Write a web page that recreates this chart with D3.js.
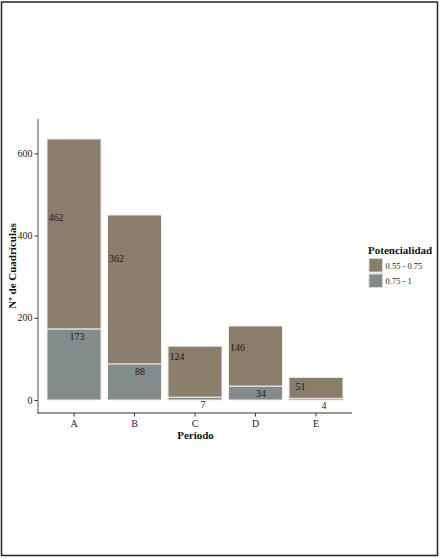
<!DOCTYPE html>
<html><head><meta charset="utf-8">
<script src="https://cdn.jsdelivr.net/npm/d3@7"></script>
<style>html,body{margin:0;padding:0;background:#fff;}</style>
</head><body>
<svg id="chart" width="440" height="559"></svg>
<script>
const periods = ["A","B","C","D","E"];
const seriesNames = ["0.55 - 0.75","0.75 - 1"];
const low = [462,362,124,146,51];   // 0.55 - 0.75 (top, brown)
const high = [173,88,7,34,4];        // 0.75 - 1 (bottom, grey)
const yTicks = [0,200,400,600];
const colors = {"0.55 - 0.75":"#8B7D6B","0.75 - 1":"#838B8B"};

const svg = d3.select("#chart");
const font = "'Liberation Serif','Times New Roman',serif";

// frame
svg.append("rect").attr("x",1.5).attr("y",2).attr("width",436).attr("height",553.5)
  .attr("fill","none").attr("stroke","#222").attr("stroke-width",1.5);

const x = d3.scaleBand().domain(periods).range([38,352]).paddingInner(0.107).paddingOuter(0.149);
const y = d3.scaleLinear().domain([-31.6,683.5]).range([413,119]);

const data = periods.map((p,i)=>({p, "0.75 - 1":high[i], "0.55 - 0.75":low[i]}));
const stack = d3.stack().keys(["0.75 - 1","0.55 - 0.75"])(data);

const g = svg.append("g");
stack.forEach(layer=>{
  g.selectAll(null).data(layer).enter().append("rect")
    .attr("x",d=>x(d.data.p)).attr("width",x.bandwidth())
    .attr("y",d=>y(d[1])).attr("height",d=>y(d[0])-y(d[1]))
    .attr("fill",colors[layer.key]).attr("stroke","#eeeeee").attr("stroke-width",1);
});

// value labels
const c = p=>x(p)+x.bandwidth()/2;
g.selectAll(null).data(periods).enter().append("text")
  .attr("x",p=>c(p)-10.5).attr("y",(p,i)=>y(low[i])+10.8)
  .attr("text-anchor","end").attr("font-family",font).attr("font-size",10).attr("fill","#1a1a1a")
  .text((p,i)=>low[i]);
g.selectAll(null).data(periods).enter().append("text")
  .attr("x",p=>c(p)+10.5).attr("y",(p,i)=>y(high[i])+10.8)
  .attr("text-anchor","end").attr("font-family",font).attr("font-size",10).attr("fill","#1a1a1a")
  .text((p,i)=>high[i]);

// axes
const axCol = "#6e6e6e";
svg.append("line").attr("x1",38).attr("x2",38).attr("y1",119).attr("y2",413.5).attr("stroke",axCol).attr("stroke-width",1.2);
svg.append("line").attr("x1",37.5).attr("x2",352).attr("y1",413).attr("y2",413).attr("stroke","#333").attr("stroke-width",1.2);

const yAxis = svg.append("g").attr("transform","translate(38,0)")
  .call(d3.axisLeft(y).tickValues(yTicks).tickSize(3.5).tickPadding(2));
yAxis.select(".domain").remove();
yAxis.selectAll("line").attr("stroke","#333");
yAxis.selectAll("text").attr("font-family",font).attr("font-size",10).attr("fill","#222");

const xAxis = svg.append("g").attr("transform","translate(0,413)")
  .call(d3.axisBottom(x).tickSize(3.5).tickPadding(3));
xAxis.select(".domain").remove();
xAxis.selectAll("line").attr("stroke","#333");
xAxis.selectAll("text").attr("font-family",font).attr("font-size",10).attr("fill","#222");

// axis titles
svg.append("text").attr("x",195.5).attr("y",439).attr("text-anchor","middle")
  .attr("font-family",font).attr("font-size",11).attr("font-weight","bold").attr("fill","#111").text("Periodo");
svg.append("text").attr("transform","translate(16,266) rotate(-90)").attr("text-anchor","middle")
  .attr("font-family",font).attr("font-size",11).attr("font-weight","bold").attr("fill","#111").text("Nº de Cuadrículas");

// legend
const lg = svg.append("g");
lg.append("text").attr("x",368).attr("y",254).attr("font-family",font).attr("font-size",11)
  .attr("font-weight","bold").attr("fill","#111").text("Potencialidad");
seriesNames.forEach((s,i)=>{
  lg.append("rect").attr("x",369).attr("y",258.5+i*15.5).attr("width",13.5).attr("height",13.5)
    .attr("fill",colors[s]).attr("stroke","#d8d8d8").attr("stroke-width",1);
  lg.append("text").attr("x",385.5).attr("y",268.8+i*15.5).attr("font-family",font).attr("font-size",8.5)
    .attr("fill","#222").text(s);
});
</script>
</body></html>
